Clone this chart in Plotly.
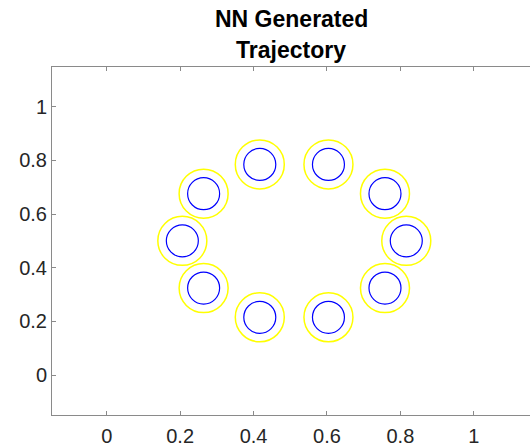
import plotly.graph_objects as go

# Trajectory points
traj_x = [0.206, 0.264, 0.417, 0.604, 0.758, 0.816, 0.758, 0.604, 0.417, 0.264]
traj_y = [0.500, 0.324, 0.215, 0.215, 0.324, 0.500, 0.676, 0.785, 0.785, 0.676]

x_ticks = [0, 0.2, 0.4, 0.6, 0.8, 1]
x_tick_labels = ["0", "0.2", "0.4", "0.6", "0.8", "1"]
y_ticks = [0, 0.2, 0.4, 0.6, 0.8, 1]
y_tick_labels = ["0", "0.2", "0.4", "0.6", "0.8", "1"]

title_lines = ["NN Generated", "Trajectory"]

fig = go.Figure()
fig.add_trace(go.Scatter(
    x=traj_x, y=traj_y, mode="markers",
    marker=dict(symbol="circle-open", size=49, color="#ffff00",
                line=dict(color="#ffff00", width=1.5)),
    showlegend=False, hoverinfo="skip"))
fig.add_trace(go.Scatter(
    x=traj_x, y=traj_y, mode="markers",
    marker=dict(symbol="circle-open", size=32, color="#0000ff",
                line=dict(color="#0000ff", width=1.2)),
    showlegend=False, hoverinfo="skip"))

axis_font = dict(family="Liberation Sans, Arial, Helvetica, sans-serif", size=20, color="#262626")

fig.update_layout(
    width=530, height=447,
    margin=dict(l=52, r=0, t=67, b=30, pad=0),
    paper_bgcolor="white", plot_bgcolor="white",
    xaxis=dict(range=[-0.149, 1.153], tickvals=x_ticks, ticktext=x_tick_labels,
               showgrid=False, zeroline=False, showline=True, linecolor="#8a8a8a",
               linewidth=1, mirror="ticks", ticks="inside", ticklen=4,
               tickcolor="#8a8a8a", tickfont=axis_font, ticklabelstandoff=3),
    yaxis=dict(range=[-0.149, 1.148], tickvals=y_ticks, ticktext=y_tick_labels,
               showgrid=False, zeroline=False, showline=True, linecolor="#8a8a8a",
               linewidth=1, mirror=False, ticks="inside", ticklen=4,
               tickcolor="#8a8a8a", tickfont=axis_font),
)

title_font = dict(family="Liberation Sans, Arial, Helvetica, sans-serif", size=23, color="black")
for i, line in enumerate(title_lines):
    fig.add_annotation(text="<b>%s</b>" % line, xref="paper", yref="paper",
                       x=0.5, y=1.0, yshift=[33, 2][i], xanchor="center", yanchor="bottom",
                       showarrow=False, font=title_font)

fig.write_html("out.html")
